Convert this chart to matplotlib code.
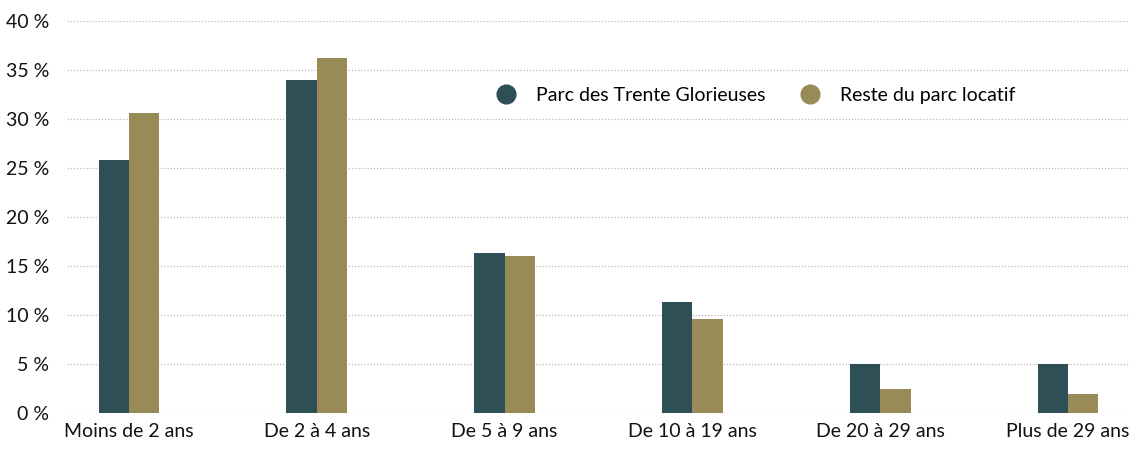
import numpy as np
import matplotlib.pyplot as plt
from matplotlib.lines import Line2D

# Ancienneté des locataires
categories = ['Moins de 2 ans', 'De 2 à 4 ans', 'De 5 à 9 ans',
              'De 10 à 19 ans', 'De 20 à 29 ans', 'Plus de 29 ans']
trente_glorieuses = [25.8, 34.0, 16.3, 11.3, 5.0, 5.0]
reste_parc = [30.6, 36.2, 16.0, 9.6, 2.5, 1.9]
y_ticks = [0, 5, 10, 15, 20, 25, 30, 35, 40]

dark = '#2f4f57'
olive = '#998b57'

plt.rcParams['font.family'] = ['Lato', 'DejaVu Sans']

fig = plt.figure(figsize=(11.34, 4.53), dpi=100)
ax = fig.add_axes([67 / 1134, 40 / 453, 1063 / 1134, 392 / 453])

x = np.arange(len(categories))
w = 0.162
ax.bar(x - w / 2, trente_glorieuses, width=w, color=dark, zorder=3)
ax.bar(x + w / 2, reste_parc, width=w, color=olive, zorder=3)

ax.set_xlim(-0.33, 5.33)
ax.set_ylim(0, 40)
ax.set_yticks(y_ticks)
ax.set_yticklabels([f'{v} %' for v in y_ticks], fontsize=14, color='#111111')
ax.set_xticks(x)
ax.set_xticklabels(categories, fontsize=14, color='#111111')
ax.tick_params(length=0)
ax.tick_params(axis='y', pad=13)
ax.tick_params(axis='x', pad=7)
ax.grid(axis='y', color='#bbbbbb', linestyle=(0, (1, 1.5)), linewidth=0.9, zorder=0)
for s in ax.spines.values():
    s.set_visible(False)

handles = [Line2D([], [], marker='o', linestyle='none', markersize=13.5, color=dark),
           Line2D([], [], marker='o', linestyle='none', markersize=13.5, color=olive)]
ax.legend(handles, ['Parc des Trente Glorieuses', 'Reste du parc locatif'],
          ncol=2, frameon=False, fontsize=14, loc='center left',
          bbox_to_anchor=(0.378, 0.81), handletextpad=0.55, columnspacing=1.3)

fig.savefig('out.png', dpi=100)
